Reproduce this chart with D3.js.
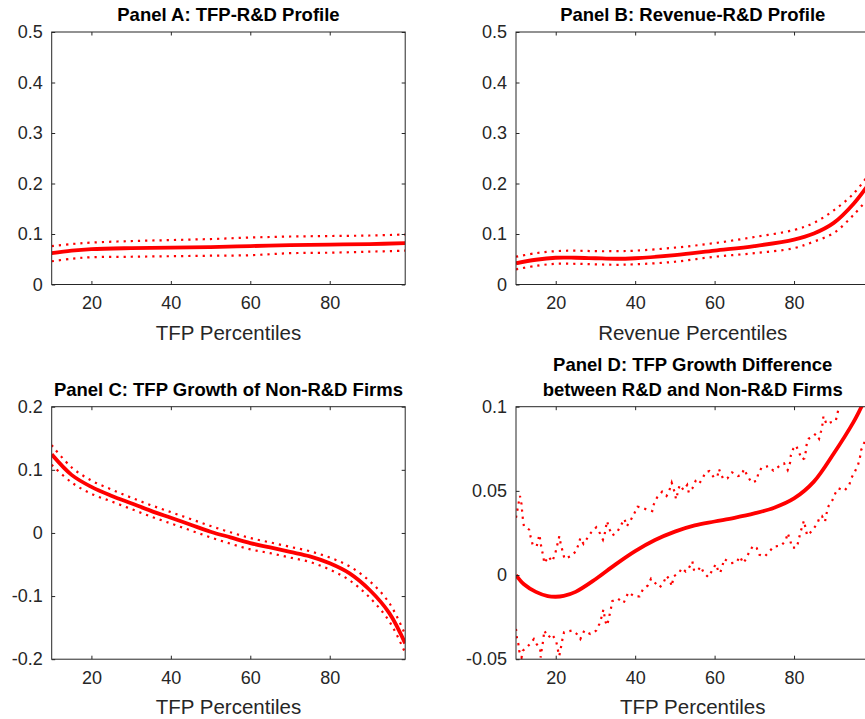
<!DOCTYPE html>
<html><head><meta charset="utf-8">
<script src="https://cdn.jsdelivr.net/npm/d3@7"></script>
<style>body{margin:0;background:#fff}svg{display:block;font-family:"Liberation Sans",Arial,sans-serif}</style>
</head><body><svg id="c" width="865" height="719"></svg>
<script>
// ---------- DATA ----------
const xTicks = [20, 40, 60, 80];
const xDomain = [10, 99];

// Panel A: TFP-R&D profile
const aX = [10, 15, 20, 30, 40, 50, 60, 70, 80, 90, 99];
const aMain = [0.062, 0.067, 0.070, 0.072, 0.073, 0.074, 0.076, 0.078, 0.079, 0.080, 0.082];
const aUpper = [0.076, 0.080, 0.083, 0.086, 0.088, 0.090, 0.093, 0.095, 0.096, 0.097, 0.099];
const aLower = [0.046, 0.051, 0.054, 0.055, 0.056, 0.057, 0.058, 0.062, 0.063, 0.065, 0.067];

// Panel B: Revenue-R&D profile
const bX = [10, 15, 20, 25, 30, 35, 40, 50, 60, 70, 80, 85, 90, 95, 99];
const bMain = [0.042, 0.049, 0.053, 0.053, 0.052, 0.051, 0.052, 0.058, 0.067, 0.076, 0.089, 0.101, 0.122, 0.160, 0.201];
const bUpper = [0.055, 0.062, 0.066, 0.067, 0.066, 0.066, 0.067, 0.073, 0.082, 0.094, 0.108, 0.122, 0.147, 0.180, 0.220];
const bLower = [0.030, 0.037, 0.041, 0.041, 0.040, 0.039, 0.040, 0.045, 0.055, 0.062, 0.072, 0.085, 0.102, 0.138, 0.174];

// Panel C: TFP growth of non-R&D firms
const cX = [10, 15, 20, 25, 30, 35, 40, 45, 50, 55, 60, 65, 70, 75, 80, 85, 90, 95, 99];
const cMain = [0.1245, 0.092, 0.073, 0.059, 0.047, 0.035, 0.024, 0.013, 0.002, -0.007, -0.016, -0.023, -0.030, -0.037, -0.048, -0.064, -0.090, -0.127, -0.175];
const cUpper = [0.139, 0.104, 0.083, 0.069, 0.056, 0.044, 0.033, 0.022, 0.011, 0.001, -0.008, -0.015, -0.022, -0.029, -0.039, -0.053, -0.076, -0.111, -0.161];
const cLower = [0.108, 0.080, 0.062, 0.050, 0.038, 0.026, 0.015, 0.004, -0.007, -0.017, -0.026, -0.032, -0.039, -0.046, -0.058, -0.075, -0.102, -0.140, -0.190];

// Panel D: TFP growth difference between R&D and non-R&D firms
const dX = [10, 12, 15, 18, 20, 22, 25, 30, 35, 40, 45, 50, 55, 60, 65, 70, 75, 80, 85, 90, 95, 97, 99];
const dMain = [0, -0.0055, -0.0100, -0.0125, -0.0129, -0.0124, -0.0100, -0.0025, 0.0062, 0.0142, 0.0208, 0.0258, 0.0295, 0.0318, 0.0340, 0.0366, 0.0400, 0.0455, 0.0555, 0.0722, 0.091, 0.100, 0.109];
const dUpperX = [10, 10.3, 10.6, 11, 11.4, 11.6, 11.8, 12, 13.3, 13.7, 14.2, 15.2, 15.6, 15.9, 16.2, 16.5, 16.9, 17.1, 18.2, 19.1, 19.8, 20.3, 20.9, 21.3, 21.8, 22.2, 23.6, 25.1, 25.7, 26.2, 27, 27.9, 28.9, 30.2, 31.2, 31.9, 32.3, 32.6, 32.9, 33.6, 34.2, 35.4, 36.3, 37.3, 37.9, 38.9, 39.8, 40.6, 41.7, 42.8, 44.3, 44.7, 45.5, 46.8, 47.9, 48.5, 49.2, 49.9, 50.3, 51.2, 52.2, 53.1, 53.5, 54.4, 55.2, 56, 56.9, 57.7, 58.7, 59.8, 60.7, 61.1, 61.4, 62.2, 63.2, 64.4, 65.9, 66.8, 67.4, 68.3, 69.3, 70.6, 71, 71.9, 73.6, 74.8, 76.3, 77.5, 78.4, 79, 79.2, 79.8, 80.5, 81.3, 82, 82.6, 83, 83.2, 83.7, 84.7, 85.5, 86.3, 86.8, 87.2, 87.4, 88.2, 89.3, 90.5, 90.9, 91.3, 93, 95, 97, 99];
const dUpper = [0.034, 0.038, 0.042, 0.047, 0.042, 0.036, 0.032, 0.029, 0.027, 0.0225, 0.018, 0.017, 0.021, 0.024, 0.019, 0.015, 0.011, 0.007, 0.011, 0.008, 0.012, 0.017, 0.023, 0.018, 0.0136, 0.0097, 0.011, 0.014, 0.018, 0.022, 0.0185, 0.0217, 0.0252, 0.0284, 0.0245, 0.021, 0.024, 0.028, 0.032, 0.027, 0.0235, 0.0252, 0.029, 0.0333, 0.029, 0.0327, 0.0367, 0.0406, 0.040, 0.039, 0.038, 0.042, 0.046, 0.0495, 0.047, 0.0495, 0.0548, 0.0495, 0.045, 0.0535, 0.0505, 0.0535, 0.049, 0.0515, 0.0558, 0.054, 0.057, 0.061, 0.0618, 0.058, 0.0584, 0.063, 0.061, 0.057, 0.0574, 0.061, 0.0588, 0.0594, 0.063, 0.0588, 0.055, 0.056, 0.0604, 0.064, 0.0647, 0.062, 0.0647, 0.0663, 0.0624, 0.0667, 0.0712, 0.075, 0.077, 0.0726, 0.0687, 0.0693, 0.0738, 0.078, 0.081, 0.082, 0.084, 0.081, 0.0854, 0.090, 0.0943, 0.0896, 0.0908, 0.0916, 0.0955, 0.100, 0.106, 0.113, 0.121, 0.130];
const dLowerX = [10, 10.2, 10.6, 10.8, 11.4, 11.7, 12.7, 13.5, 14.5, 15.2, 16.1, 16.2, 16.5, 16.9, 17.1, 18.2, 19, 20.1, 20.5, 20.9, 21.4, 21.7, 22.1, 24.1, 25.3, 26.2, 27.2, 28.7, 30.2, 31, 31.6, 32, 32.5, 32.9, 33.3, 33.9, 34.2, 35.6, 37.1, 38.3, 39.8, 41.1, 42, 43.2, 44, 44.9, 46.2, 47.2, 47.9, 48.7, 49.2, 49.7, 51, 51.8, 52.7, 53.5, 54.4, 54.8, 55.6, 56.5, 57.3, 58.4, 59.4, 60.3, 60.9, 61.4, 62, 62.4, 64.1, 65.5, 66.4, 67.2, 67.9, 68.7, 69.7, 70.6, 71.3, 72.6, 73.8, 74.9, 76.8, 77.9, 78.4, 79, 79.5, 80.7, 81.6, 82.1, 82.5, 82.9, 83.3, 84.1, 85, 85.9, 86.5, 87, 87.8, 88.2, 88.7, 89.7, 90.4, 91.2, 92.7, 93.9, 94.4, 95.3, 96.1, 96.6, 96.9, 97.6, 98.4, 99];
const dLower = [-0.032, -0.037, -0.041, -0.045, -0.049, -0.045, -0.043, -0.041, -0.038, -0.041, -0.044, -0.049, -0.044, -0.038, -0.033, -0.037, -0.035, -0.039, -0.044, -0.048, -0.042, -0.038, -0.034, -0.033, -0.035, -0.038, -0.033, -0.035, -0.033, -0.029, -0.0245, -0.0205, -0.0275, -0.030, -0.0265, -0.020, -0.0156, -0.014, -0.0166, -0.0103, -0.0127, -0.0127, -0.0083, -0.0062, -0.0022, -0.0044, -0.0073, -0.0042, -0.0004, -0.0028, -0.0067, -0.0008, 0.0012, 0.0041, 0.0021, 0.0041, 0.0081, 0.0031, 0.0021, 0.0051, 0.0012, -0.0012, 0.0027, 0.0065, 0.0027, 0.0012, 0.0057, 0.0095, 0.0071, 0.0075, 0.011, 0.0071, 0.0095, 0.0136, 0.0174, 0.016, 0.012, 0.011, 0.014, 0.0169, 0.0175, 0.0205, 0.0249, 0.0209, 0.0163, 0.0163, 0.0252, 0.0292, 0.0323, 0.0278, 0.0235, 0.0252, 0.0278, 0.0308, 0.0347, 0.0351, 0.0317, 0.0367, 0.041, 0.0446, 0.0486, 0.0515, 0.0501, 0.0535, 0.0574, 0.0614, 0.0653, 0.0699, 0.0742, 0.0782, 0.0821, 0.085];

const yTicksAB = [0, 0.1, 0.2, 0.3, 0.4, 0.5];
const yLabelsAB = ["0", "0.1", "0.2", "0.3", "0.4", "0.5"];
const yTicksC = [-0.2, -0.1, 0, 0.1, 0.2];
const yLabelsC = ["-0.2", "-0.1", "0", "0.1", "0.2"];
const yTicksD = [-0.05, 0, 0.05, 0.1];
const yLabelsD = ["-0.05", "0", "0.05", "0.1"];

// ---------- DRAW ----------
const svg = d3.select("#c");
const W = 353.5, H = 252.5;
const axisColor = "#262626";

function zip(xs, ys) { return xs.map((x, i) => [x, ys[i]]); }

const panels = [
  { id: "A", left: 51.7, top: 32, title: ["Panel A: TFP-R&D Profile"], xlabel: "TFP Percentiles",
    ydom: [0, 0.5], yt: yTicksAB, yl: yLabelsAB,
    main: zip(aX, aMain), bands: [zip(aX, aUpper), zip(aX, aLower)], smooth: true },
  { id: "B", left: 516, top: 32, title: ["Panel B: Revenue-R&D Profile"], xlabel: "Revenue Percentiles",
    ydom: [0, 0.5], yt: yTicksAB, yl: yLabelsAB,
    main: zip(bX, bMain), bands: [zip(bX, bUpper), zip(bX, bLower)], smooth: true },
  { id: "C", left: 51.7, top: 406.7, title: ["Panel C: TFP Growth of Non-R&D Firms"], xlabel: "TFP Percentiles",
    ydom: [-0.2, 0.2], yt: yTicksC, yl: yLabelsC,
    main: zip(cX, cMain), bands: [zip(cX, cUpper), zip(cX, cLower)], smooth: true },
  { id: "D", left: 516, top: 406.7, title: ["Panel D: TFP Growth Difference", "between R&D and Non-R&D Firms"], xlabel: "TFP Percentiles",
    ydom: [-0.05, 0.1], yt: yTicksD, yl: yLabelsD,
    main: zip(dX, dMain), bands: [zip(dUpperX, dUpper), zip(dLowerX, dLower)], smooth: false }
];

panels.forEach(p => {
  const g = svg.append("g").attr("transform", `translate(${p.left},${p.top})`);
  const x = d3.scaleLinear().domain(xDomain).range([0, W]);
  const y = d3.scaleLinear().domain(p.ydom).range([H, 0]);

  g.append("clipPath").attr("id", "clip" + p.id)
    .append("rect").attr("x", 0).attr("y", 0).attr("width", W).attr("height", H);

  const plot = g.append("g").attr("clip-path", `url(#clip${p.id})`);

  const lineSmooth = d3.line().x(d => x(d[0])).y(d => y(d[1])).curve(d3.curveCatmullRom.alpha(0.5));
  const lineRaw = d3.line().x(d => x(d[0])).y(d => y(d[1]));

  p.bands.forEach(b => {
    plot.append("path").attr("d", (p.smooth ? lineSmooth : lineRaw)(b))
      .attr("fill", "none").attr("stroke", "#ff0000").attr("stroke-width", 2.2)
      .attr("stroke-dasharray", "2.2 5");
  });
  plot.append("path").attr("d", lineSmooth(p.main))
    .attr("fill", "none").attr("stroke", "#ff0000").attr("stroke-width", 3.8)
    .attr("stroke-linejoin", "round");

  // Axes (MATLAB box style, ticks inside)
  const tl = 3.5;
  const xb = d3.axisBottom(x).tickValues(xTicks).tickSize(-tl).tickPadding(12).tickFormat(d3.format("d"));
  const xt = d3.axisTop(x).tickValues(xTicks).tickSize(-tl).tickFormat("");
  const yl = d3.axisLeft(y).tickValues(p.yt).tickSize(-tl).tickPadding(9).tickFormat((d, i) => p.yl[i]);
  const yr = d3.axisRight(y).tickValues(p.yt).tickSize(-tl).tickFormat("");

  const gx = g.append("g").attr("transform", `translate(0,${H})`).call(xb);
  const gxt = g.append("g").call(xt);
  const gy = g.append("g").call(yl);
  const gyr = g.append("g").attr("transform", `translate(${W},0)`).call(yr);

  [gx, gxt, gy, gyr].forEach(a => {
    a.select(".domain").remove();
    a.selectAll(".tick line").attr("stroke", axisColor).attr("stroke-width", 1);
    a.selectAll(".tick text").attr("fill", axisColor).attr("font-size", "18px")
      .attr("font-family", '"Liberation Sans", Arial, sans-serif');
  });
  g.append("rect").attr("x", 0).attr("y", 0).attr("width", W).attr("height", H)
    .attr("fill", "none").attr("stroke", axisColor).attr("stroke-width", 1);

  // Title
  const tt = g.append("text").attr("text-anchor", "middle").attr("font-weight", "bold")
    .attr("font-size", "18.5px").attr("fill", "#000");
  const nL = p.title.length;
  p.title.forEach((t, i) => {
    tt.append("tspan").attr("x", W / 2).attr("y", -11 - (nL - 1 - i) * 25).text(t);
  });

  // X label
  g.append("text").attr("x", W / 2).attr("y", H + 55).attr("text-anchor", "middle")
    .attr("font-size", "20.5px").attr("fill", axisColor).text(p.xlabel);
});
</script></body></html>
